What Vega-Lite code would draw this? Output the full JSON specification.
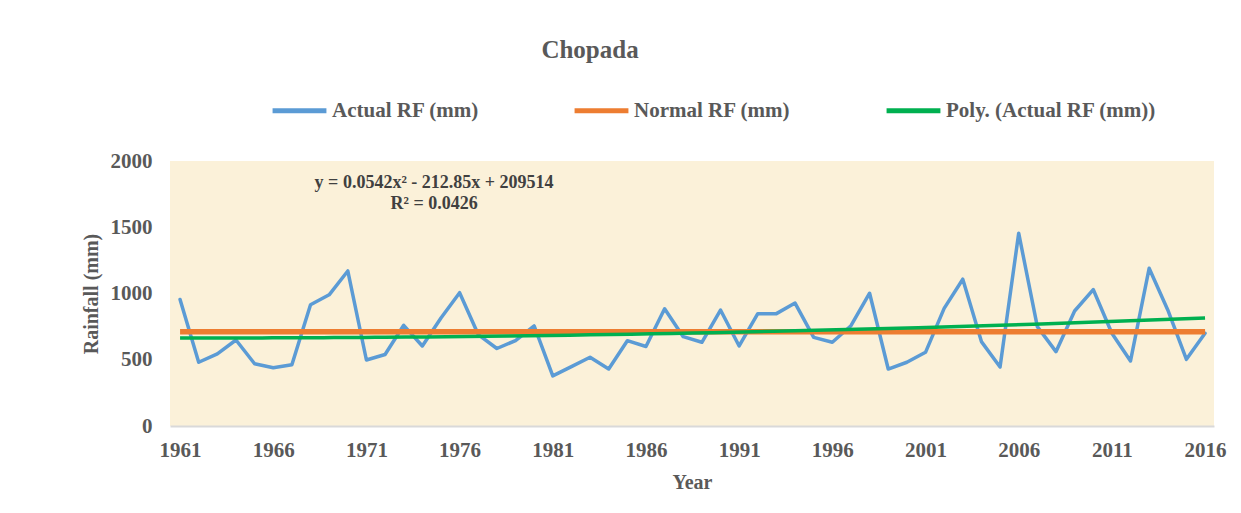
{
  "$schema": "https://vega.github.io/schema/vega-lite/v6.json",
  "width": 1044,
  "height": 265,
  "autosize": {"type": "none"},
  "padding": {"left": 170, "top": 161, "right": 27, "bottom": 87},
  "background": "white",
  "title": {
    "text": "Chopada",
    "anchor": "middle",
    "dx": -102,
    "offset": 18,
    "font": "Liberation Serif",
    "fontSize": 25,
    "fontWeight": "bold",
    "color": "#595959"
  },
  "config": {
    "view": {"fill": "#FBF1D9", "stroke": null},
    "axis": {
      "labelFont": "Liberation Serif",
      "labelFontWeight": "bold",
      "labelFontSize": 21,
      "labelColor": "#595959",
      "titleFont": "Liberation Serif",
      "titleFontWeight": "bold",
      "titleFontSize": 20,
      "titleColor": "#595959",
      "grid": false,
      "ticks": false
    },
    "legend": {
      "labelFont": "Liberation Serif",
      "labelFontWeight": "bold",
      "labelFontSize": 21,
      "labelColor": "#595959"
    }
  },
  "datasets": {
    "rain": [
      {"year": 1961, "actual": 955, "normal": 712},
      {"year": 1962, "actual": 481, "normal": 712},
      {"year": 1963, "actual": 545, "normal": 712},
      {"year": 1964, "actual": 649, "normal": 712},
      {"year": 1965, "actual": 470, "normal": 712},
      {"year": 1966, "actual": 440, "normal": 712},
      {"year": 1967, "actual": 462, "normal": 712},
      {"year": 1968, "actual": 915, "normal": 712},
      {"year": 1969, "actual": 990, "normal": 712},
      {"year": 1970, "actual": 1170, "normal": 712},
      {"year": 1971, "actual": 498, "normal": 712},
      {"year": 1972, "actual": 540, "normal": 712},
      {"year": 1973, "actual": 760, "normal": 712},
      {"year": 1974, "actual": 604, "normal": 712},
      {"year": 1975, "actual": 815, "normal": 712},
      {"year": 1976, "actual": 1006, "normal": 712},
      {"year": 1977, "actual": 690, "normal": 712},
      {"year": 1978, "actual": 585, "normal": 712},
      {"year": 1979, "actual": 645, "normal": 712},
      {"year": 1980, "actual": 755, "normal": 712},
      {"year": 1981, "actual": 378, "normal": 712},
      {"year": 1982, "actual": 448, "normal": 712},
      {"year": 1983, "actual": 519, "normal": 712},
      {"year": 1984, "actual": 430, "normal": 712},
      {"year": 1985, "actual": 644, "normal": 712},
      {"year": 1986, "actual": 600, "normal": 712},
      {"year": 1987, "actual": 885, "normal": 712},
      {"year": 1988, "actual": 674, "normal": 712},
      {"year": 1989, "actual": 632, "normal": 712},
      {"year": 1990, "actual": 875, "normal": 712},
      {"year": 1991, "actual": 604, "normal": 712},
      {"year": 1992, "actual": 848, "normal": 712},
      {"year": 1993, "actual": 848, "normal": 712},
      {"year": 1994, "actual": 928, "normal": 712},
      {"year": 1995, "actual": 669, "normal": 712},
      {"year": 1996, "actual": 632, "normal": 712},
      {"year": 1997, "actual": 757, "normal": 712},
      {"year": 1998, "actual": 1002, "normal": 712},
      {"year": 1999, "actual": 430, "normal": 712},
      {"year": 2000, "actual": 481, "normal": 712},
      {"year": 2001, "actual": 556, "normal": 712},
      {"year": 2002, "actual": 888, "normal": 712},
      {"year": 2003, "actual": 1108, "normal": 712},
      {"year": 2004, "actual": 637, "normal": 712},
      {"year": 2005, "actual": 445, "normal": 712},
      {"year": 2006, "actual": 1455, "normal": 712},
      {"year": 2007, "actual": 750, "normal": 712},
      {"year": 2008, "actual": 561, "normal": 712},
      {"year": 2009, "actual": 868, "normal": 712},
      {"year": 2010, "actual": 1030, "normal": 712},
      {"year": 2011, "actual": 700, "normal": 712},
      {"year": 2012, "actual": 491, "normal": 712},
      {"year": 2013, "actual": 1190, "normal": 712},
      {"year": 2014, "actual": 876, "normal": 712},
      {"year": 2015, "actual": 503, "normal": 712},
      {"year": 2016, "actual": 700, "normal": 712}
    ],
    "note": [
      {"label": "equation"}
    ]
  },
  "layer": [
    {
      "data": {"name": "rain"},
      "mark": {"type": "line", "strokeWidth": 3.5, "strokeCap": "round", "strokeJoin": "round"},
      "encoding": {
        "x": {
          "field": "year",
          "type": "quantitative",
          "title": "Year",
          "scale": {"domain": [1960.46, 2016.48], "nice": false, "zero": false},
          "axis": {
            "values": [1961, 1966, 1971, 1976, 1981, 1986, 1991, 1996, 2001, 2006, 2011, 2016],
            "format": "d",
            "labelPadding": 13,
            "titlePadding": 12,
            "domainColor": "#D9D9D9",
            "domainWidth": 2,
            "labelFlush": false,
            "labelOverlap": false
          }
        },
        "y": {
          "field": "actual",
          "type": "quantitative",
          "title": "Rainfall (mm)",
          "scale": {"domain": [0, 2000], "nice": false},
          "axis": {
            "values": [0, 500, 1000, 1500, 2000],
            "format": "d",
            "domain": false,
            "labelPadding": 18,
            "titlePadding": 9
          }
        },
        "color": {
          "datum": "Actual RF (mm)",
          "type": "nominal",
          "scale": {
            "domain": ["Actual RF (mm)", "Normal RF (mm)", "Poly. (Actual RF (mm))"],
            "range": ["#5B9BD5", "#ED7D31", "#00B050"]
          },
          "legend": {
            "title": null,
            "orient": "none",
            "direction": "horizontal",
            "legendX": 100,
            "legendY": -80,
            "symbolType": "stroke",
            "symbolSize": 2900,
            "symbolStrokeWidth": 5,
            "labelOffset": 3,
            "columnPadding": 85,
            "labelLimit": 400
          }
        }
      }
    },
    {
      "data": {"name": "rain"},
      "mark": {"type": "line", "strokeWidth": 5.5},
      "encoding": {
        "x": {"field": "year", "type": "quantitative"},
        "y": {"field": "normal", "type": "quantitative"},
        "color": {"datum": "Normal RF (mm)", "type": "nominal"}
      }
    },
    {
      "data": {"name": "rain"},
      "transform": [
        {"regression": "actual", "on": "year", "method": "poly", "order": 2, "extent": [1961, 2016]}
      ],
      "mark": {"type": "line", "strokeWidth": 3.5},
      "encoding": {
        "x": {"field": "year", "type": "quantitative"},
        "y": {"field": "actual", "type": "quantitative"},
        "color": {"datum": "Poly. (Actual RF (mm))", "type": "nominal"}
      }
    },
    {
      "data": {"name": "note"},
      "mark": {
        "type": "text",
        "text": ["y = 0.0542x² - 212.85x + 209514", "R² = 0.0426"],
        "font": "Liberation Serif",
        "fontWeight": "bold",
        "fontSize": 18,
        "color": "#404040",
        "align": "center",
        "baseline": "middle",
        "lineHeight": 21
      },
      "encoding": {
        "x": {"datum": 1974.63, "type": "quantitative"},
        "y": {"datum": 1834, "type": "quantitative"}
      }
    }
  ]
}
